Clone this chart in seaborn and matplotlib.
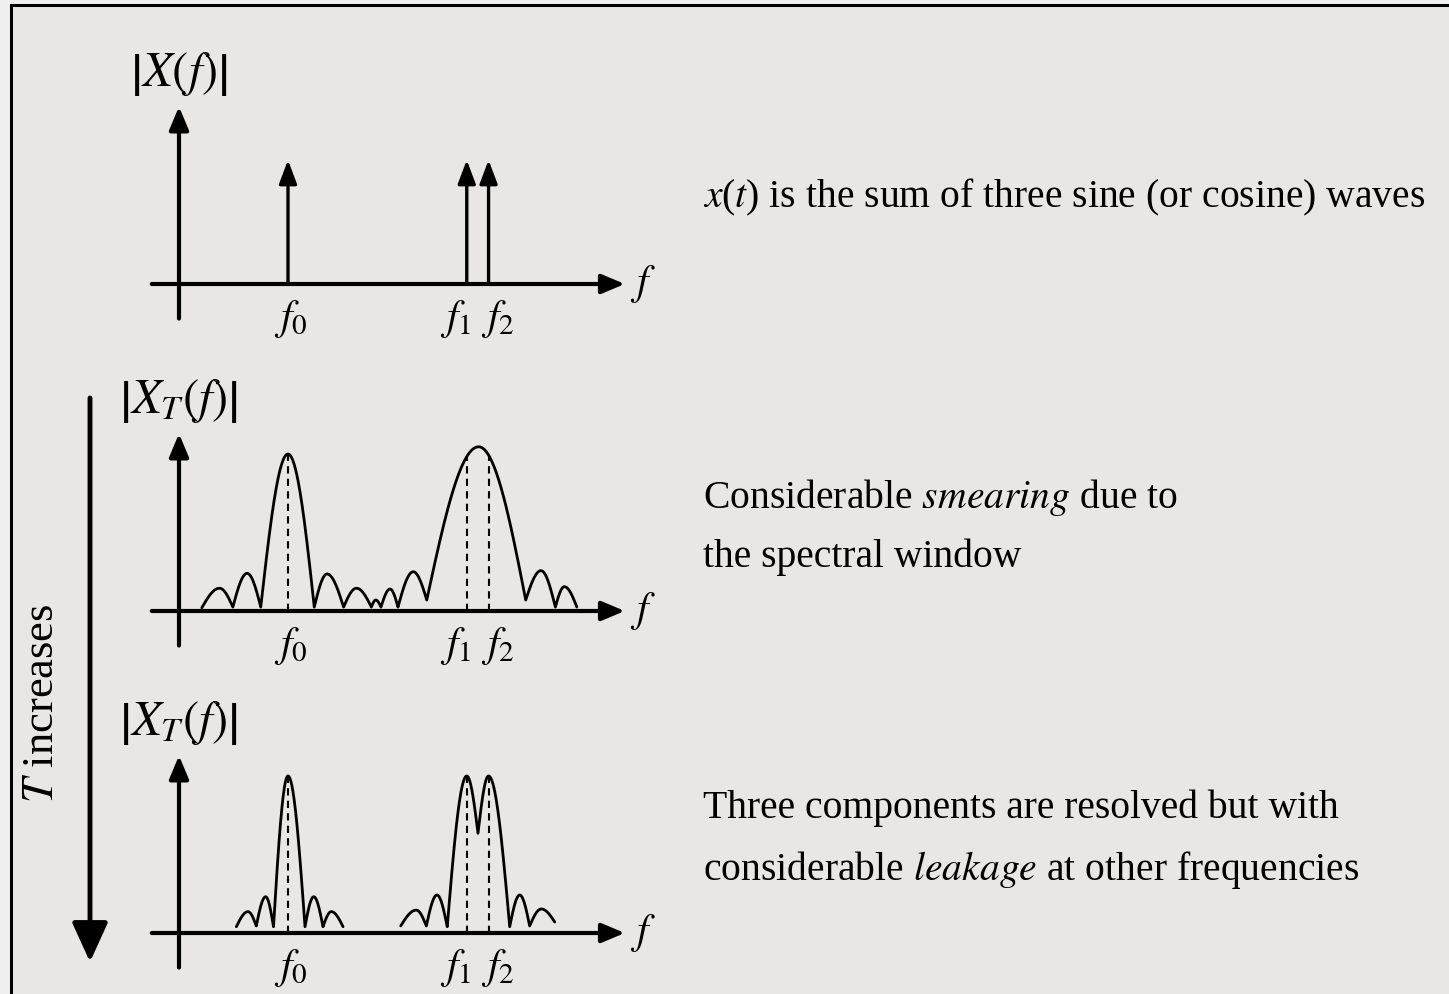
import numpy as np
import matplotlib
matplotlib.use("Agg")
import matplotlib.pyplot as plt
from matplotlib.patches import Rectangle
import seaborn as sns

# ---------------------------------------------------------------- data
# component frequencies (axis units)
freqs = [10.0, 26.4, 28.4]
freq_labels = [r"$f_0$", r"$f_1$", r"$f_2$"]
impulse_height = 0.79

# |X_T(f)| for a short window: alternating valley / peak knots
short_f = [2.09, 3.72, 4.94, 6.25, 7.50, 10.0, 12.41, 13.58, 15.10, 16.28,
           17.65, 18.05, 18.53, 19.36, 20.09, 21.49, 22.73, 27.49, 31.81,
           33.21, 34.53, 35.35, 36.50]
short_amp = [0.02, 0.145, 0.025, 0.24, 0.025, 1.0, 0.025, 0.236, 0.025, 0.145,
             0.025, 0.07, 0.025, 0.14, 0.025, 0.25, 0.07, 1.046, 0.07,
             0.257, 0.025, 0.155, 0.025]

# |X_T(f)| for a longer window: two separate clusters of lobes
long_f_a = [5.26, 6.33, 7.09, 7.95, 8.67, 10.0, 11.56, 12.36, 13.21, 13.97, 15.05]
long_amp_a = [0.04, 0.136, 0.045, 0.231, 0.04, 1.0, 0.04, 0.231, 0.04, 0.136, 0.04]
long_f_b = [20.34, 21.77, 22.69, 23.67, 24.61, 26.4, 27.43, 28.4, 30.34,
            31.26, 32.17, 33.24, 34.47]
long_amp_b = [0.045, 0.146, 0.045, 0.242, 0.04, 1.0, 0.635, 1.0, 0.04,
              0.242, 0.045, 0.153, 0.07]

descriptions = [
    [r"$x$($t$) is the sum of three sine (or cosine) waves"],
    [r"Considerable $\mathit{smearing}$ due to", "the spectral window"],
    [r"Three components are resolved but with",
     r"considerable $\mathit{leakage}$ at other frequencies"],
]
panel_titles = [r"$\left|X(f)\right|$", r"$\left|X_T(f)\right|$", r"$\left|X_T(f)\right|$"]

# ---------------------------------------------------------------- style
sns.set_theme(style="white")
plt.rcParams["font.family"] = ["Liberation Serif", "DejaVu Serif"]
plt.rcParams["mathtext.fontset"] = "stix"
plt.rcParams["text.color"] = "black"

W, H = 1449, 994
fig = plt.figure(figsize=(W / 100, H / 100), dpi=100, facecolor="#f0f0f0")

# overlay in pixel units for the frame, side arrow and captions
overlay = fig.add_axes([0, 0, 1, 1])
overlay.set_xlim(0, W)
overlay.set_ylim(H, 0)
overlay.set_axis_off()
overlay.add_patch(Rectangle((11, 5), W + 20, H + 20, facecolor="#e8e7e5",
                            edgecolor="black", lw=2.2, zorder=0))

PX_PER_F = 10.9
PX_PER_A = 157.0
XLIM = (-3.0, 45.0)
YLIM = (-0.35, 1.30)


def make_panel(baseline_px, yaxis_px=179):
    left = yaxis_px + XLIM[0] * PX_PER_F
    right = yaxis_px + XLIM[1] * PX_PER_F
    top = baseline_px - YLIM[1] * PX_PER_A
    bottom = baseline_px - YLIM[0] * PX_PER_A
    ax = fig.add_axes([left / W, 1 - bottom / H, (right - left) / W, (bottom - top) / H])
    ax.set_xlim(*XLIM)
    ax.set_ylim(*YLIM)
    ax.set_axis_off()
    return ax


def arrow(ax, start, end, lw, scale, hl, hw):
    ax.annotate("", xy=end, xytext=start, annotation_clip=False,
                arrowprops=dict(arrowstyle=f"-|>,head_length={hl},head_width={hw}",
                                lw=lw, color="black", shrinkA=0, shrinkB=0,
                                mutation_scale=scale))


def draw_frame(ax, title):
    arrow(ax, (-2.5, 0), (40.9, 0), 3.0, 14, 1.0, 0.42)
    arrow(ax, (0, -0.22), (0, 1.13), 3.0, 14, 1.0, 0.42)
    ax.text(42.6, 0.0, r"$f$", fontsize=30, ha="center", va="center")
    ax.text(0.0, 1.34, title, fontsize=35, ha="center", va="center", clip_on=False)
    offsets = [0.3, -1.0, 0.8]
    for f, lab, off in zip(freqs, freq_labels, offsets):
        ax.text(f + off, -0.225, lab, fontsize=30, ha="center", va="center")


def lobe_curve(fk, ak, n=40):
    xs, ys = [], []
    for i in range(len(fk) - 1):
        t = np.linspace(0, 1, n)
        x0, x1, y0, y1 = fk[i], fk[i + 1], ak[i], ak[i + 1]
        if y1 > y0:
            y = y0 + (y1 - y0) * np.sin(np.pi * t / 2)
        else:
            y = y1 + (y0 - y1) * np.cos(np.pi * t / 2)
        xs.append(x0 + (x1 - x0) * t)
        ys.append(y)
    return np.concatenate(xs), np.concatenate(ys)


def draw_spectrum(ax, segments):
    curves = []
    for fk, ak in segments:
        x, y = lobe_curve(fk, ak)
        sns.lineplot(x=x, y=y, ax=ax, color="black", linewidth=2.0,
                     sort=False, estimator=None)
        curves.append((x, y))
    for f in freqs:
        for x, y in curves:
            if x[0] <= f <= x[-1]:
                top = np.interp(f, x, y)
                ax.plot([f, f], [0, top], color="black", lw=1.5,
                        linestyle=(0, (3.5, 2.5)))


# panel 1: line spectrum
ax1 = make_panel(284)
draw_frame(ax1, panel_titles[0])
for f in freqs:
    arrow(ax1, (f, 0), (f, impulse_height), 2.4, 12, 1.2, 0.45)

# panel 2: short observation window
ax2 = make_panel(611)
draw_frame(ax2, panel_titles[1])
draw_spectrum(ax2, [(short_f, short_amp)])

# panel 3: longer observation window
ax3 = make_panel(933)
draw_frame(ax3, panel_titles[2])
draw_spectrum(ax3, [(long_f_a, long_amp_a), (long_f_b, long_amp_b)])

# side arrow: window length grows downward
overlay.annotate("", xy=(90, 962), xytext=(90, 398),
                 arrowprops=dict(arrowstyle="-|>,head_length=1.1,head_width=0.5",
                                 lw=3.5, color="black", shrinkA=0, shrinkB=0,
                                 mutation_scale=22))
overlay.text(42, 703, r"$T$ increases", rotation=90, fontsize=32,
             ha="center", va="center")

# captions
baselines = [[207], [508, 567], [818, 880]]
for lines, ys in zip(descriptions, baselines):
    for txt, y in zip(lines, ys):
        overlay.text(703, y, txt, fontsize=28.5, ha="left", va="baseline")

fig.savefig("out.png", dpi=100, facecolor=fig.get_facecolor())
